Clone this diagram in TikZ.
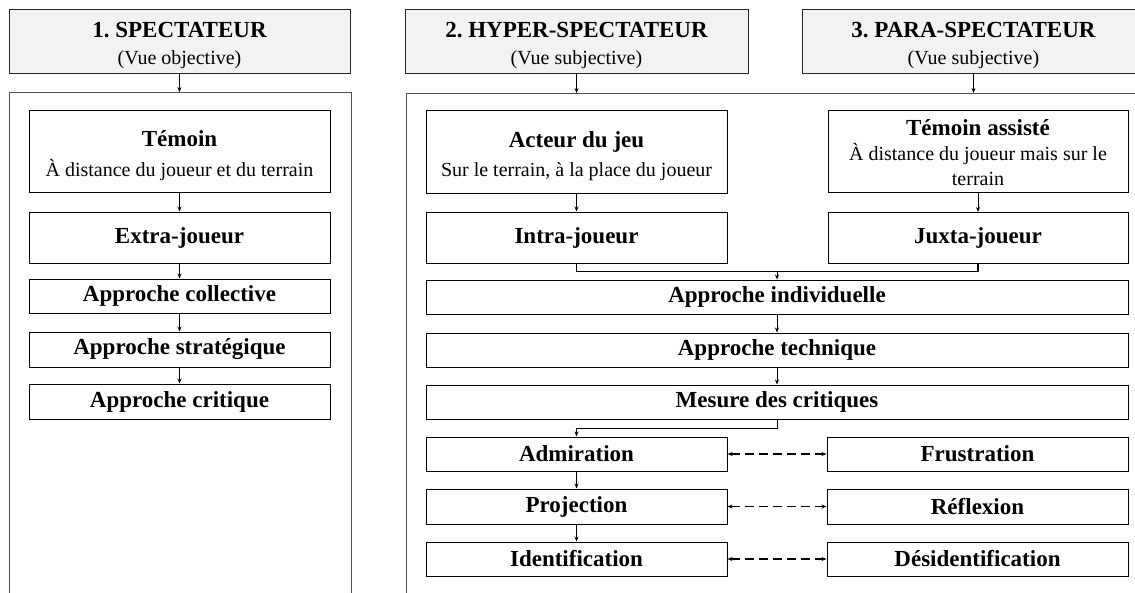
\documentclass[tikz,border=0pt]{standalone}
\usepackage{fontspec}
\setmainfont{Liberation Serif}
\usetikzlibrary{arrows.meta}
\frenchspacing
\definecolor{contcol}{HTML}{44546A}
\definecolor{hdrfill}{HTML}{F2F2F2}
\newcommand{\ttl}{\fontsize{23}{27}\selectfont\bfseries}
\newcommand{\sub}{\fontsize{20}{27}\selectfont\mdseries}
\tikzset{
  hdr/.style={draw=black!85, fill=hdrfill, line width=1pt, inner sep=0pt, minimum width=343pt, minimum height=64pt},
  bx/.style={draw=black, fill=white, line width=1pt, align=center, inner sep=0pt, font=\ttl},
  txt/.style={align=center, inner sep=0pt},
  cont/.style={draw=contcol, line width=1pt},
  arr/.style={-{Stealth[length=5pt,width=4pt]}, line width=1pt},
  darr/.style={{Stealth[length=5pt,width=4pt]}-{Stealth[length=5pt,width=4pt]}, line width=1.2pt, dash pattern=on 9pt off 5pt},
  ln/.style={line width=1.1pt}
}
\begin{document}
\begin{tikzpicture}[x=1pt,y=-1pt]
\useasboundingbox (0,0) rectangle (1135,592);
\clip (0,0) rectangle (1135,592);
\fill[white] (0,0) rectangle (1135,592);
% containers
\draw[cont] (9,600) -- (9,92) -- (351,92) -- (351,600);
\draw[cont] (406,600) -- (406,93) -- (1145,93);
\coordinate (cL) at (179.5,92);
\coordinate (cM) at (576.5,93);
\coordinate (cR) at (973.5,93);
% headers
\node[hdr, minimum width=341pt] (hL) at (179.5,41) {};
\node[hdr] (hM) at (576.5,41) {};
\node[hdr] (hR) at (973.5,41) {};
\node[txt, font=\fontsize{20}{27}\selectfont] (hLt) at (179.5,46) {{\ttl 1. SPECTATEUR}\\{\sub (Vue objective)}};
\node[txt, font=\fontsize{20}{27}\selectfont] (hMt) at (576.5,46) {{\ttl 2. HYPER-SPECTATEUR}\\{\sub (Vue subjective)}};
\node[txt, font=\fontsize{20}{27}\selectfont] (hRt) at (973.5,46) {{\ttl 3. PARA-SPECTATEUR}\\{\sub (Vue subjective)}};
% left column
\node[bx, minimum width=301pt, minimum height=82pt] (tem) at (179.5,151) {};
\node[txt, font=\fontsize{20}{30}\selectfont] (temt) at (179.5,156) {{\ttl T\'emoin}\\{\sub \`A distance du joueur et du terrain}};
\node[bx, minimum width=301pt, minimum height=51pt] (ext) at (179.5,237.5) {Extra-joueur};
\node[bx, minimum width=301pt, minimum height=34pt] (col) at (179.5,296) {Approche collective};
\node[bx, minimum width=301pt, minimum height=35pt] (str) at (179.5,349.5) {Approche strat\'egique};
\node[bx, minimum width=301pt, minimum height=35pt] (cri) at (179.5,401.5) {Approche critique};
% middle / right
\node[bx, minimum width=301pt, minimum height=83pt] (act) at (576.5,151.5) {};
\node[txt, font=\fontsize{20}{29}\selectfont] (actt) at (576.5,156) {{\ttl Acteur du jeu}\\{\sub Sur le terrain, \`a la place du joueur}};
\node[bx, minimum width=300pt, minimum height=82pt] (tas) at (978,151) {};
\node[txt, font=\fontsize{20}{25}\selectfont] (tast) at (978,153) {{\ttl T\'emoin assist\'e}\\{\sub \`A distance du joueur mais sur le}\\{\sub terrain}};
\node[bx, minimum width=301pt, minimum height=51pt] (intra) at (576.5,237.5) {Intra-joueur};
\node[bx, minimum width=300pt, minimum height=51pt] (juxta) at (978,238) {Juxta-joueur};
\node[bx, minimum width=702pt, minimum height=34pt] (ind) at (777,297) {Approche individuelle};
\node[bx, minimum width=702pt, minimum height=34pt] (tec) at (777,350) {Approche technique};
\node[bx, minimum width=702pt, minimum height=34pt] (mes) at (777,402) {Mesure des critiques};
\node[bx, minimum width=301pt, minimum height=34pt] (adm) at (576.5,454) {Admiration};
\node[bx, minimum width=301pt, minimum height=35pt] (pro) at (576.5,506.5) {Projection};
\node[bx, minimum width=301pt, minimum height=34pt] (ide) at (576.5,559) {Identification};
\node[bx, minimum width=301pt, minimum height=34pt] (fru) at (977.5,454) {Frustration};
\node[bx, minimum width=301pt, minimum height=35pt] (ref) at (977.5,506.5) {R\'eflexion};
\node[bx, minimum width=301pt, minimum height=34pt] (des) at (977.5,559) {D\'esidentification};
% connectors
\draw[arr] (hL.south) -- (cL);
\draw[arr] (hM.south) -- (cM);
\draw[arr] (hR.south) -- (cR);
\draw[arr] (tem) -- (ext);
\draw[arr] (ext) -- (col);
\draw[arr] (col) -- (str);
\draw[arr] (str) -- (cri);
\draw[arr] (act) -- (intra);
\draw[arr] (tas) -- (juxta);
\coordinate (jn) at (777,271.5);
\draw[ln] (intra.south) |- (jn) -| (juxta.south);
\draw[arr] (jn) -- (ind.north);
\draw[arr] (ind) -- (tec);
\draw[arr] (tec) -- (mes);
\coordinate (mj) at (777,428);
\draw[arr] (mes.south) -- (mj) -| (adm.north);
\draw[arr] (adm) -- (pro);
\draw[arr] (pro) -- (ide);
\draw[darr] (adm.east) -- (fru.west);
\draw[darr] (pro.east) -- (ref.west);
\draw[darr] (ide.east) -- (des.west);
\end{tikzpicture}
\end{document}
